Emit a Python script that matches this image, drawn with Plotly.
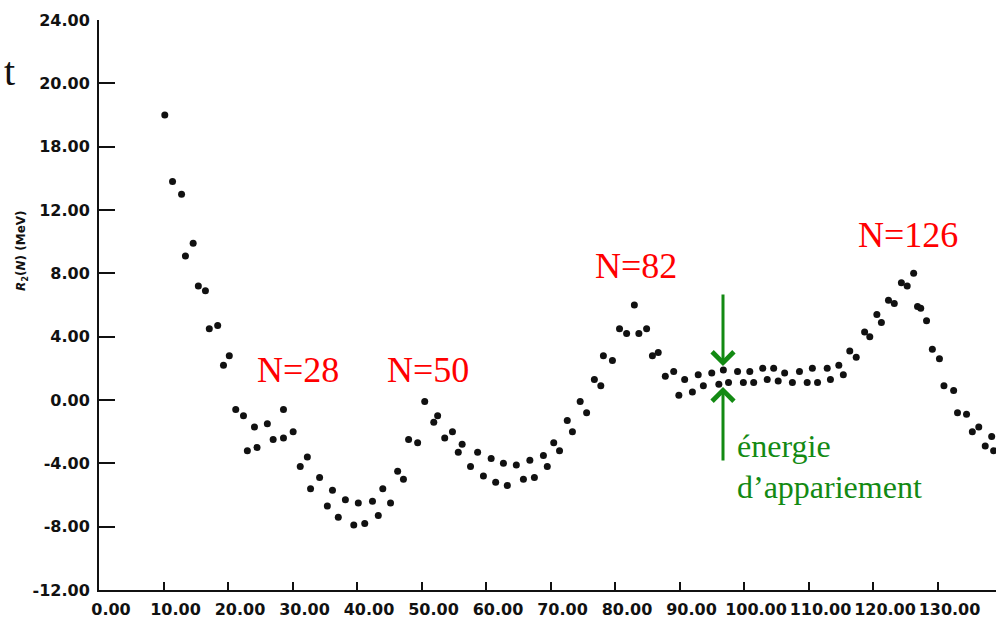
import plotly.graph_objects as go

# ---------------- data ----------------
N_VALUES = [
    10.2, 11.4, 12.8, 13.4, 14.6, 15.4, 16.5, 17.1, 18.4, 19.3, 20.2,
    21.2, 22.4, 23.0, 24.1, 24.5, 26.1, 27.0, 28.6, 28.6, 30.1,
    31.2, 32.3, 32.8, 34.2, 35.4, 36.2, 37.1, 38.2, 39.5, 40.2,
    41.2, 42.4, 43.3, 44.0, 45.2, 46.3, 47.2, 48.0, 49.4, 50.5,
    51.9, 52.5, 53.6, 54.8, 55.7, 56.3, 57.6, 58.7, 59.6, 60.8,
    61.5, 62.7, 63.3, 64.7, 65.8, 66.8, 67.5, 68.9, 69.5, 70.5,
    71.4, 72.6, 73.4, 74.6, 75.6, 76.8, 77.8, 78.2, 79.6, 80.7,
    81.8, 83.0, 83.7, 84.9, 85.8, 86.7, 87.8, 89.1, 89.9, 90.8,
    92.0, 92.9, 93.7, 95.0, 96.1, 96.8, 97.6, 99.0, 99.9, 100.9,
    101.5, 102.9, 103.6, 104.6, 105.3, 106.3, 107.5, 108.6, 109.8, 110.6,
    111.4, 112.9, 113.4, 114.7, 115.4, 116.4, 117.4, 118.7, 119.5, 120.6,
    121.3, 122.4, 123.3, 124.4, 125.3, 126.3, 126.9, 127.4, 128.3, 129.2,
    130.3, 131.0, 132.5, 133.1, 134.5, 135.4, 136.4, 137.4, 138.4, 138.7,
]
R2_VALUES = [
    18.0, 13.8, 13.0, 9.1, 9.9, 7.2, 6.9, 4.5, 4.7, 2.2, 2.8,
    -0.6, -1.0, -3.2, -1.7, -3.0, -1.5, -2.5, -0.6, -2.4, -2.0,
    -4.2, -3.6, -5.6, -4.9, -6.7, -5.7, -7.4, -6.3, -7.9, -6.5,
    -7.8, -6.4, -7.3, -5.6, -6.5, -4.5, -5.0, -2.5, -2.7, -0.1,
    -1.4, -1.0, -2.4, -2.0, -3.3, -2.8, -4.2, -3.3, -4.8, -3.7,
    -5.2, -4.0, -5.4, -4.1, -5.0, -3.8, -4.9, -3.5, -4.2, -2.7,
    -3.2, -1.3, -2.0, -0.1, -0.8, 1.3, 0.9, 2.8, 2.5, 4.5,
    4.2, 6.0, 4.2, 4.5, 2.8, 3.0, 1.5, 1.8, 0.3, 1.3,
    0.5, 1.6, 0.9, 1.7, 1.0, 1.9, 1.1, 1.8, 1.1, 1.8,
    1.1, 2.0, 1.3, 2.0, 1.2, 1.7, 1.1, 1.8, 1.1, 2.0,
    1.1, 2.0, 1.3, 2.2, 1.6, 3.1, 2.7, 4.3, 4.0, 5.4,
    4.9, 6.3, 6.1, 7.4, 7.2, 8.0, 5.9, 5.8, 5.0, 3.2,
    2.6, 0.9, 0.6, -0.8, -0.9, -2.0, -1.7, -2.9, -2.3, -3.2,
]

X_TICK_VALUES = [0, 10, 20, 30, 40, 50, 60, 70, 80, 90, 100, 110, 120, 130]
X_TICK_LABELS = ["0.00", "10.00", "20.00", "30.00", "40.00", "50.00", "60.00",
                 "70.00", "80.00", "90.00", "100.00", "110.00", "120.00", "130.00"]
Y_TICK_VALUES = [24, 20, 16, 12, 8, 4, 0, -4, -8, -12]
Y_TICK_LABELS = ["24.00", "20.00", "18.00", "12.00", "8.00", "4.00", "0.00",
                 "-4.00", "-8.00", "-12.00"]

MAGIC_LABELS = ["N=28", "N=50", "N=82", "N=126"]
PAIRING_LABEL_LINES = ["énergie", "d’appariement"]
Y_TITLE = "<i>R</i><sub>2</sub>(<i>N</i>) (MeV)"
CORNER_TEXT = "t"

# ---------------- layout geometry ----------------
W, H = 996, 628
ML, MR, MT, MB = 99, 0, 20, 38
PW, PH = W - ML - MR, H - MT - MB
X_MIN, X_MAX = 0, PW / 6.45
Y_MIN, Y_MAX = -12, 24


def paper_x(px):
    return (px - ML) / PW


def paper_y(py):
    return (H - MB - py) / PH


def data_x(px):
    return X_MIN + (px - ML) / PW * (X_MAX - X_MIN)


def data_y(py):
    return Y_MIN + (H - MB - py) / PH * (Y_MAX - Y_MIN)


INK = "#111111"
RED = "#ff0000"
GREEN = "#138a13"

fig = go.Figure()
fig.add_trace(go.Scatter(
    x=N_VALUES, y=R2_VALUES, mode="markers",
    marker=dict(size=7, color=INK, line=dict(width=0)),
    showlegend=False, hoverinfo="x+y", cliponaxis=False,
))

annotations = []
# magic-number labels
magic_pos = [(298, 370), (428, 370), (636, 266), (908, 235)]
for txt, (px, py) in zip(MAGIC_LABELS, magic_pos):
    annotations.append(dict(
        text=txt, xref="paper", yref="paper", x=paper_x(px), y=paper_y(py),
        xanchor="center", yanchor="middle", showarrow=False,
        font=dict(family="Liberation Serif", size=36, color=RED)))

# pairing energy arrows
arrow_x = data_x(723)
annotations.append(dict(
    x=arrow_x, y=data_y(366), ax=arrow_x, ay=data_y(293),
    xref="x", yref="y", axref="x", ayref="y", text="", showarrow=True,
    arrowhead=4, arrowsize=1.4, arrowwidth=3, arrowcolor=GREEN))
annotations.append(dict(
    x=arrow_x, y=data_y(387), ax=arrow_x, ay=data_y(462),
    xref="x", yref="y", axref="x", ayref="y", text="", showarrow=True,
    arrowhead=4, arrowsize=1.4, arrowwidth=3, arrowcolor=GREEN))
for txt, py in zip(PAIRING_LABEL_LINES, [446, 487]):
    annotations.append(dict(
        text=txt, xref="paper", yref="paper", x=paper_x(735), y=paper_y(py),
        xanchor="left", yanchor="middle", showarrow=False,
        font=dict(family="Liberation Serif", size=32, color=GREEN)))

# y axis title
annotations.append(dict(
    text="<b>" + Y_TITLE + "</b>", xref="paper", yref="paper",
    x=paper_x(22), y=paper_y(251), textangle=-90,
    xanchor="center", yanchor="middle", showarrow=False,
    font=dict(family="DejaVu Sans", size=12, color=INK)))

# stray letter at the top-left corner
annotations.append(dict(
    text=CORNER_TEXT, xref="paper", yref="paper",
    x=paper_x(17), y=paper_y(72), xanchor="right", yanchor="middle",
    showarrow=False, font=dict(family="Liberation Serif", size=40, color=INK)))

tick_font = dict(family="DejaVu Sans", size=16, color=INK, weight="bold")

fig.update_layout(
    width=W, height=H, margin=dict(l=ML, r=MR, t=MT, b=MB, pad=0, autoexpand=False),
    paper_bgcolor="white", plot_bgcolor="white",
    annotations=annotations,
    xaxis=dict(
        range=[X_MIN, X_MAX], tickvals=X_TICK_VALUES, ticktext=X_TICK_LABELS,
        showgrid=False, zeroline=False, showline=True, linecolor=INK, linewidth=2,
        ticks="inside", ticklen=8, tickwidth=2, tickcolor=INK, automargin=False,
        tickfont=tick_font, ticklabelshift=12, ticklabelstandoff=4,
    ),
    yaxis=dict(
        range=[Y_MIN, Y_MAX], tickvals=Y_TICK_VALUES, ticktext=Y_TICK_LABELS,
        showgrid=False, zeroline=False, showline=True, linecolor=INK, linewidth=2,
        ticks="inside", ticklen=16, tickwidth=2, tickcolor=INK, automargin=False,
        tickfont=tick_font, ticklabelstandoff=4,
    ),
)

fig.write_html(
    "out.html",
    config={"displayModeBar": False},
    post_script="document.body.style.margin='0';document.body.style.overflow='hidden';",
)
